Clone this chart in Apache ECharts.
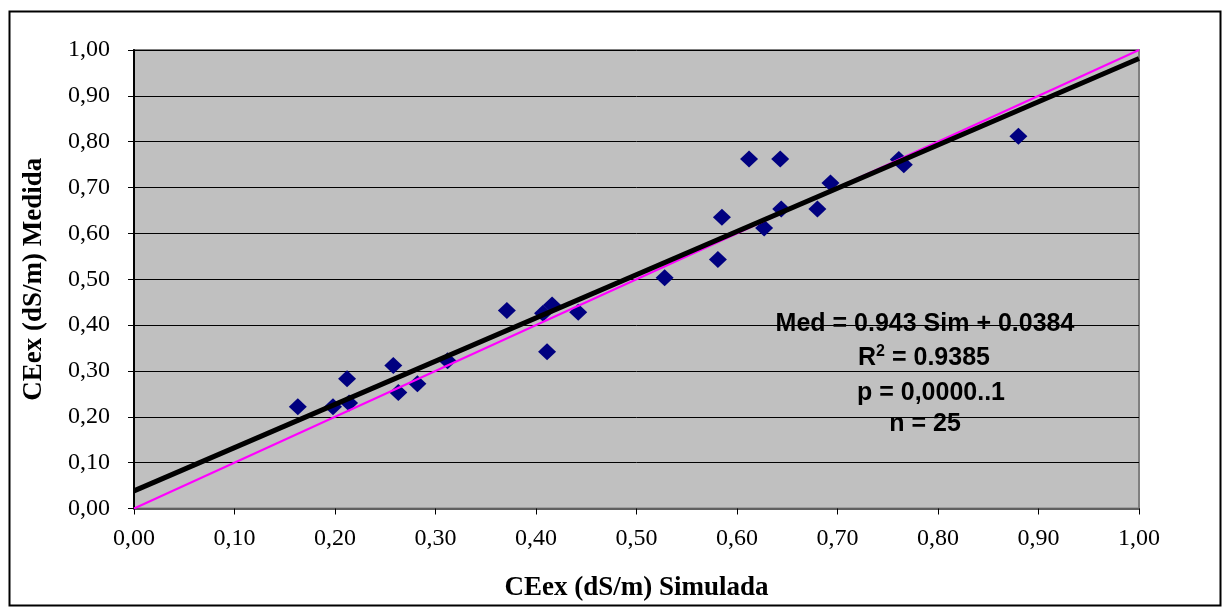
<!DOCTYPE html>
<html>
<head>
<meta charset="utf-8">
<script src="https://cdn.jsdelivr.net/npm/echarts@6/dist/echarts.min.js"></script>
<style>html,body{margin:0;padding:0;background:#fff}#c{width:1222px;height:612px}</style>
</head>
<body>
<div id="c"></div>
<script>
// Simulated vs measured CEex (dS/m)
const simX = [0.163,0.198,0.212,0.214,0.258,0.263,0.282,0.312,0.371,0.407,0.411,0.416,0.442,0.528,0.581,0.585,0.612,0.627,0.643,0.644,0.680,0.693,0.761,0.766,0.880];
const medY = [0.222,0.222,0.283,0.230,0.312,0.253,0.272,0.322,0.432,0.426,0.342,0.444,0.428,0.503,0.543,0.635,0.762,0.612,0.762,0.653,0.653,0.710,0.761,0.750,0.812];
// Regression line endpoints (Med = 0.943 Sim + 0.0384) and 1:1 line
const trendX = [0, 1];
const trendY = [0.0384, 0.9814];
const oneX = [0, 1];
const oneY = [0, 1];
const xTickLabels = ['0,00','0,10','0,20','0,30','0,40','0,50','0,60','0,70','0,80','0,90','1,00'];
const yTickLabels = ['0,00','0,10','0,20','0,30','0,40','0,50','0,60','0,70','0,80','0,90','1,00'];
const annotLines = ['Med = 0.943 Sim + 0.0384', '{a|R}{s|2}{a| = 0.9385}', 'p = 0,0000..1', 'n = 25'];

const chart = echarts.init(document.getElementById('c'));
const serif = '"Liberation Serif","Times New Roman",serif';
const sans = '"Liberation Sans",Arial,sans-serif';
const pts = simX.map((x, i) => [x, medY[i]]);
const annotPos = [[925, 324], [924, 358], [931, 393], [925, 424]];

chart.setOption({
  backgroundColor: '#ffffff',
  animation: false,
  grid: {left: 134, top: 50, width: 1005, height: 458.5, show: true,
         backgroundColor: '#c0c0c0', borderColor: '#808080', borderWidth: 2},
  xAxis: {
    type: 'value', min: 0, max: 1, interval: 0.1,
    name: 'CEex (dS/m) Simulada', nameLocation: 'middle', nameGap: 66,
    nameTextStyle: {fontFamily: serif, fontWeight: 'bold', fontSize: 27, color: '#000'},
    axisLine: {show: true, onZero: false, lineStyle: {color: '#606060', width: 2}},
    axisTick: {show: true, inside: false, length: 6, lineStyle: {color: '#000', width: 1}},
    axisLabel: {margin: 18, fontFamily: serif, fontSize: 24, color: '#000',
                formatter: v => xTickLabels[Math.round(v * 10)]},
    splitLine: {show: false}
  },
  yAxis: {
    type: 'value', min: 0, max: 1, interval: 0.1,
    name: 'CEex (dS/m) Medida', nameLocation: 'middle', nameGap: 86,
    nameTextStyle: {fontFamily: serif, fontWeight: 'bold', fontSize: 27, color: '#000'},
    axisLine: {show: true, onZero: false, lineStyle: {color: '#000', width: 2}},
    axisTick: {show: true, inside: false, length: 6, lineStyle: {color: '#000', width: 1}},
    axisLabel: {margin: 24, fontFamily: serif, fontSize: 24, color: '#000',
                formatter: v => yTickLabels[Math.round(v * 10)]},
    splitLine: {show: true, lineStyle: {color: '#000', width: 1}}
  },
  series: [
    {type: 'scatter', data: pts, symbol: 'diamond', symbolSize: [18, 17],
     itemStyle: {color: '#000080', opacity: 1}, z: 2},
    {type: 'line', data: oneX.map((x, i) => [x, oneY[i]]), symbol: 'none',
     lineStyle: {color: '#ff00ff', width: 2}, z: 3},
    {type: 'line', data: trendX.map((x, i) => [x, trendY[i]]), symbol: 'none',
     lineStyle: {color: '#000000', width: 5}, z: 4}
  ],
  graphic: [
    {type: 'rect', left: 7, top: 9, shape: {x: 0, y: 0, width: 1211, height: 594},
     style: {fill: 'none', stroke: '#000', lineWidth: 2}, z: 100, silent: true}
  ].concat(annotLines.map((t, i) => ({
    type: 'text', x: annotPos[i][0], y: annotPos[i][1], z: 100,
    style: {text: t, fill: '#000', font: 'bold 25px ' + sans, align: 'center', verticalAlign: 'middle',
            rich: {a: {font: 'bold 25px ' + sans, fill: '#000', lineHeight: 28},
                   s: {font: 'bold 16px ' + sans, fill: '#000', lineHeight: 28, verticalAlign: 'top'}}}
  })))
});
</script>
</body>
</html>
